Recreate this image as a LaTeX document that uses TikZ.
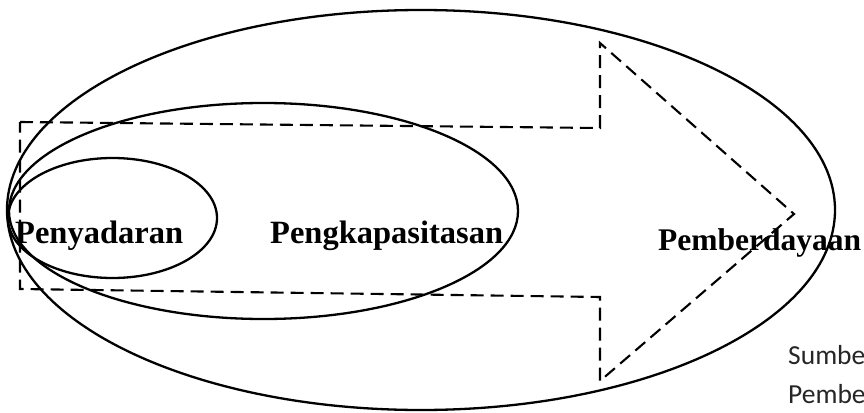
\documentclass[tikz,border=0pt]{standalone}
\usepackage{fontspec}
\setmainfont{Liberation Serif}
\newfontfamily\calibfont{Carlito}
\tikzset{
  ring/.style={draw=black, line width=2.3pt},
  dasharrow/.style={draw=black, line width=2.1pt, dash pattern=on 13pt off 7pt, line join=miter},
  biglabel/.style={inner sep=0pt, anchor=base west, font=\fontsize{32.5}{36}\selectfont\bfseries},
  srclabel/.style={inner sep=0pt, anchor=base west, text=black!85, font=\calibfont\fontsize{27.5}{32}\selectfont}
}
\begin{document}
\begin{tikzpicture}[x=1pt,y=-1pt]
\useasboundingbox (0,0) rectangle (864,412);
\fill[white] (0,0) rectangle (864,412);
% nested ellipses
\draw[ring] (421,210) ellipse [x radius=414pt, y radius=200pt];
\draw[ring] (263.5,211) ellipse [x radius=254.5pt, y radius=108pt];
\draw[ring] (112.5,218) ellipse [x radius=104.5pt, y radius=60pt];
% dashed arrow
\coordinate (a1) at (20,122);
\coordinate (a2) at (600,128);
\coordinate (a3) at (600,43);
\coordinate (tip) at (794,214);
\coordinate (a5) at (600,381);
\coordinate (a6) at (600,297);
\coordinate (a7) at (20,289);
\draw[dasharrow] (a1) -- (a2) -- (a3) -- (tip) -- (a5) -- (a6) -- (a7) -- cycle;
% labels
\node[biglabel] (pen) at (15,243) {Penyadaran};
\node[biglabel] (kap) at (270,243) {Pengkapasitasan};
\node[biglabel, font=\fontsize{31.5}{36}\selectfont\bfseries] (dya) at (658,250) {Pemberdayaan};
\node[srclabel] (s1) at (788,364) {Sumbe};
\node[srclabel] (s2) at (788,403) {Pembe};
\end{tikzpicture}
\end{document}
